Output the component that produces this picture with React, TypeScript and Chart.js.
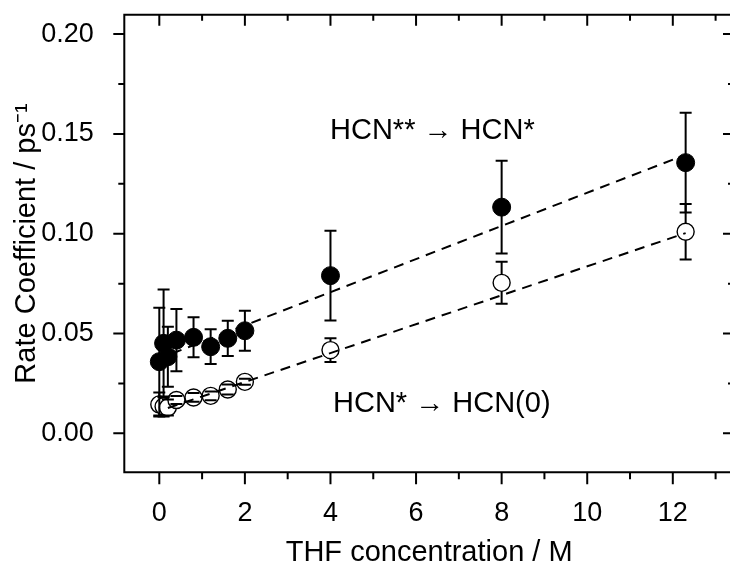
import React, { useEffect, useRef } from "react";
import { Chart, registerables } from "chart.js";

Chart.register(...registerables);

// ---- data ----
const concentration = [0, 0.1, 0.2, 0.4, 0.8, 1.2, 1.6, 2, 4, 8, 12.3];
// HCN** -> HCN* (filled circles)
const rateHot = [0.0359, 0.0451, 0.0384, 0.0467, 0.0481, 0.0434, 0.0476, 0.0514, 0.079, 0.1133, 0.1356];
const rateHotErr = [0.027, 0.027, 0.015, 0.0156, 0.01, 0.0087, 0.0088, 0.01, 0.0225, 0.0232, 0.025];
// HCN* -> HCN(0) (open circles)
const rateWarm = [0.0145, 0.0135, 0.013, 0.0167, 0.018, 0.0188, 0.022, 0.0258, 0.0417, 0.0754, 0.101];
const rateWarmErr = [0.006, 0.005, 0.004, 0.002, 0.0022, 0.0022, 0.0025, 0.0015, 0.006, 0.0105, 0.0139];
// linear fits (dashed)
const fitHotX = [0.3, 12.3];
const fitHotY = [0.04, 0.1396];
const fitWarmX = [0.2, 12.3];
const fitWarmY = [0.0127, 0.1003];
// axes
const xMajorTicks = [0, 2, 4, 6, 8, 10, 12];
const xMinorTicks = [1, 3, 5, 7, 9, 11, 13];
const yMajorTicks = [0, 0.05, 0.1, 0.15, 0.2];
const yMinorTicks = [0.025, 0.075, 0.125, 0.175];
const xRange = [-0.818, 13.43];
const yRange = [-0.0195, 0.2097];
// texts
const xTitle = "THF concentration / M";
const yTitle = "Rate Coefficient / ps\u207B\u00B9";
const labelHot = "HCN** \u2192 HCN*";
const labelWarm = "HCN* \u2192 HCN(0)";
const labelHotPos = [3.99, 0.1473];
const labelWarmPos = [4.06, 0.0105];

const FONT = "'Liberation Sans', Arial, sans-serif";

const decorPlugin = {
  id: "decor",
  afterDatasetsDraw(chart: any) {
    const ctx = chart.ctx;
    const xs = chart.scales.x;
    const ys = chart.scales.y;
    const { left, right, top, bottom } = chart.chartArea;
    ctx.save();
    ctx.strokeStyle = "#000";
    ctx.fillStyle = "#000";
    ctx.lineWidth = 2;
    // error bars
    const drawErr = (vals: number[], errs: number[], r: number) => {
      vals.forEach((v, i) => {
        const px = xs.getPixelForValue(concentration[i]);
        const pc = ys.getPixelForValue(v);
        const pt = ys.getPixelForValue(v + errs[i]);
        const pb = ys.getPixelForValue(v - errs[i]);
        ctx.beginPath();
        if (pt < pc - r) {
          ctx.moveTo(px, pc - r);
          ctx.lineTo(px, pt);
        }
        if (pb > pc + r) {
          ctx.moveTo(px, pc + r);
          ctx.lineTo(px, pb);
        }
        ctx.moveTo(px - 6, pt);
        ctx.lineTo(px + 6, pt);
        ctx.moveTo(px - 6, pb);
        ctx.lineTo(px + 6, pb);
        ctx.stroke();
      });
    };
    drawErr(rateHot, rateHotErr, 0);
    drawErr(rateWarm, rateWarmErr, 8.5);

    // frame
    ctx.beginPath();
    ctx.rect(left, top, right - left, bottom - top);
    ctx.stroke();
    // ticks
    ctx.beginPath();
    const xt = (vals: number[], len: number, lenIn: number) => {
      vals.forEach((v) => {
        const p = xs.getPixelForValue(v);
        if (p < left || p > right) return;
        ctx.moveTo(p, bottom);
        ctx.lineTo(p, bottom + len);
        ctx.moveTo(p, top);
        ctx.lineTo(p, top + lenIn);
      });
    };
    const yt = (vals: number[], len: number, lenIn: number) => {
      vals.forEach((v) => {
        const p = ys.getPixelForValue(v);
        if (p < top || p > bottom) return;
        ctx.moveTo(left, p);
        ctx.lineTo(left - len, p);
        ctx.moveTo(right, p);
        ctx.lineTo(right - lenIn, p);
      });
    };
    xt(xMajorTicks, 12, 11);
    xt(xMinorTicks, 7, 6);
    yt(yMajorTicks, 11, 11);
    yt(yMinorTicks, 6, 6);
    ctx.stroke();

    // annotations
    ctx.font = `29px ${FONT}`;
    ctx.textAlign = "left";
    ctx.textBaseline = "alphabetic";
    ctx.fillText(labelHot, xs.getPixelForValue(labelHotPos[0]), ys.getPixelForValue(labelHotPos[1]));
    ctx.fillText(labelWarm, xs.getPixelForValue(labelWarmPos[0]), ys.getPixelForValue(labelWarmPos[1]));
    ctx.restore();
  },
};

export default function App() {
  const ref = useRef<HTMLCanvasElement | null>(null);
  useEffect(() => {
    if (!ref.current) return;
    Chart.defaults.font.family = FONT;
    Chart.defaults.color = "#000";
    const chart = new Chart(ref.current, {
      type: "scatter",
      data: {
        datasets: [
          {
            label: "fit " + labelHot,
            type: "line",
            data: fitHotX.map((x, i) => ({ x, y: fitHotY[i] })),
            borderColor: "#000",
            borderWidth: 2,
            borderDash: [10, 7],
            pointRadius: 0,
            fill: false,
            order: 0,
          } as any,
          {
            label: "fit " + labelWarm,
            type: "line",
            data: fitWarmX.map((x, i) => ({ x, y: fitWarmY[i] })),
            borderColor: "#000",
            borderWidth: 2,
            borderDash: [10, 7],
            pointRadius: 0,
            fill: false,
            order: 0,
          } as any,
          {
            label: labelHot,
            data: concentration.map((x, i) => ({ x, y: rateHot[i] })),
            pointRadius: 9,
            pointBackgroundColor: "#000",
            pointBorderColor: "#000",
            pointBorderWidth: 1,
            order: 1,
          },
          {
            label: labelWarm,
            data: concentration.map((x, i) => ({ x, y: rateWarm[i] })),
            pointRadius: 8.5,
            pointBackgroundColor: "#fff",
            pointBorderColor: "#000",
            pointBorderWidth: 1.4,
            order: 1,
          },
        ],
      },
      options: {
        responsive: false,
        animation: false,
        devicePixelRatio: 1,
        layout: { padding: { top: 14.7, right: 11, left: 0, bottom: 0 } },
        plugins: { legend: { display: false }, tooltip: { enabled: false } },
        scales: {
          x: {
            type: "linear",
            min: xRange[0],
            max: xRange[1],
            afterFit: (s: any) => {
              s.height = 94.7;
              s.paddingLeft = 0;
              s.paddingRight = 0;
            },
            afterBuildTicks: (s: any) => {
              s.ticks = xMajorTicks.map((value) => ({ value }));
            },
            grid: { display: false },
            border: { display: false },
            ticks: {
              font: { size: 27 },
              color: "#000",
              padding: 17,
              autoSkip: false,
              maxRotation: 0,
              callback: (v: any) => String(v),
            },
            title: {
              display: true,
              text: xTitle,
              font: { size: 29, lineHeight: 1 },
              color: "#000",
              padding: 0,
            },
          },
          y: {
            type: "linear",
            min: yRange[0],
            max: yRange[1],
            afterFit: (s: any) => {
              s.width = 124.3;
              s.paddingTop = 0;
              s.paddingBottom = 0;
            },
            afterBuildTicks: (s: any) => {
              s.ticks = yMajorTicks.map((value) => ({ value }));
            },
            grid: { display: false },
            border: { display: false },
            ticks: {
              font: { size: 27 },
              color: "#000",
              padding: 22.6,
              autoSkip: false,
              callback: (v: any) => Number(v).toFixed(2),
            },
            title: {
              display: true,
              text: yTitle,
              font: { size: 29, lineHeight: 1.2 },
              color: "#000",
              padding: { top: 10, bottom: 0 },
            },
          },
        },
      },
      plugins: [decorPlugin],
    });
    return () => chart.destroy();
  }, []);
  return (
    <div
      style={{
        position: "fixed",
        left: 0,
        top: 0,
        width: 730,
        height: 567,
        overflow: "hidden",
        background: "#fff",
      }}
    >
      <canvas ref={ref} width={745} height={567} style={{ display: "block" }} />
    </div>
  );
}
